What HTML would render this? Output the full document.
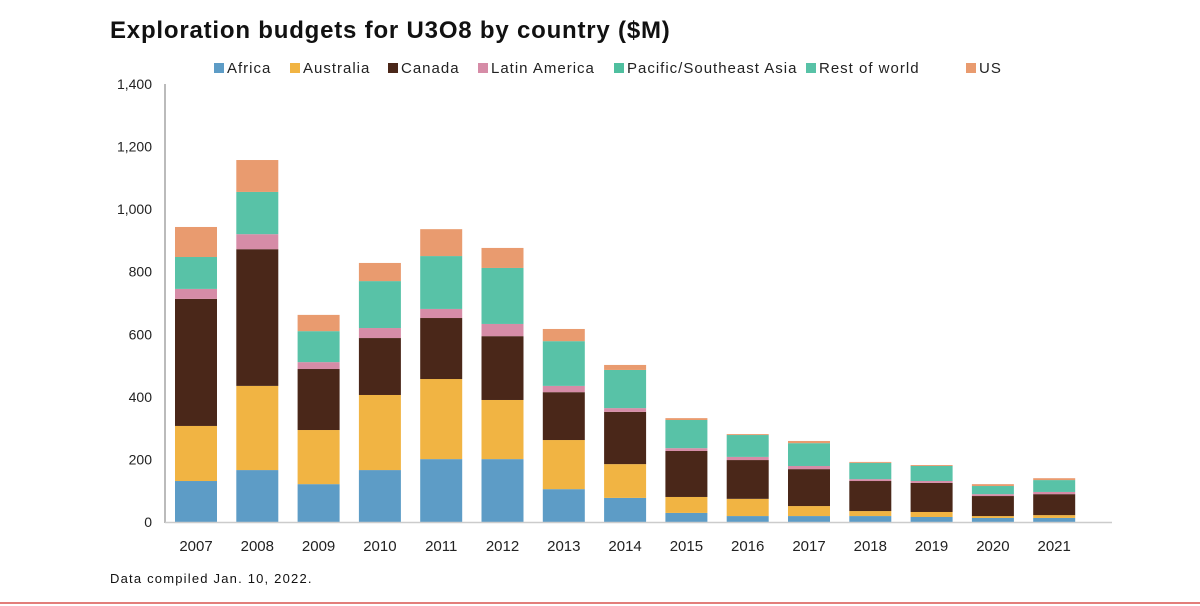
<!DOCTYPE html>
<html><head><meta charset="utf-8"><style>
body{margin:0;background:#fff;width:1200px;height:606px;overflow:hidden;font-family:"Liberation Sans",sans-serif}
</style></head><body>
<svg id="c" width="1200" height="606" style="position:absolute;left:0;top:0">
<text x="110" y="38" font-size="24" font-weight="bold" fill="#111" letter-spacing="0.8">Exploration budgets for U3O8 by country ($M)</text>
<text x="110" y="583" font-size="13" fill="#111" letter-spacing="1.2">Data compiled Jan. 10, 2022.</text>
<line x1="0" y1="603" x2="1200" y2="603" stroke="#d9534f" stroke-width="1.5"/>
</svg>
<script>
const years=["2007","2008","2009","2010","2011","2012","2013","2014","2015","2016","2017","2018","2019","2020","2021"];
const africa=[131,166,121,166,201,201,105,77,29,19,19,19,16,13,13];
const australia=[176,269,173,240,256,189,157,108,51,55,32,16,16,6,9];
const canada=[406,437,195,182,195,204,153,167,147,124,118,96,93,64,67];
const latam=[32,48,22,32,29,39,20,12,9,10,10,6,6,6,7];
const pacific=[0,0,0,0,0,0,0,0,0,0,0,0,0,0,0];
const rest=[102,135,99,150,169,179,143,122,90,70,73,52,48,26,38];
const us=[96,102,52,58,86,64,39,16,6,3,7,3,3,6,6];
const yTicks=[0,200,400,600,800,1000,1200,1400];
const yTickLabels=["0","200","400","600","800","1,000","1,200","1,400"];
const seriesNames=["Africa","Australia","Canada","Latin America","Pacific/Southeast Asia","Rest of world","US"];
const series=[africa,australia,canada,latam,pacific,rest,us];
const colors=["#5d9cc6","#f1b443","#4a2719","#d68ca7","#4fbf9f","#58c2a7","#e99b6f"];
const NS="http://www.w3.org/2000/svg",svg=document.getElementById('c');
const y0=522,pxPer=438/1400;
const y=v=>y0-v*pxPer;
const x=i=>196+i*61.3;
function mk(t,a){const e=document.createElementNS(NS,t);for(const k in a)e.setAttribute(k,a[k]);svg.appendChild(e);return e;}
yTicks.forEach((t,i)=>{const e=mk('text',{x:152,y:y(t)+5,'font-size':14,'text-anchor':'end',fill:'#222'});e.textContent=yTickLabels[i];

});
const ax=mk('line',{x1:165,y1:84,x2:165,y2:523,stroke:'#bbb','stroke-width':2});


years.forEach((yr,i)=>{let cum=0;series.forEach((s,j)=>{const v=s[i];if(v>0){const r=mk('rect',{x:x(i)-21,y:y(cum+v),width:42,height:v*pxPer,fill:colors[j]});

}cum+=v;});
const t=mk('text',{x:x(i),y:551,'font-size':15,'text-anchor':'middle',fill:'#222'});t.textContent=yr;

});
const bl=mk('line',{x1:165,y1:522.5,x2:1112,y2:522.5,stroke:'#ccc','stroke-width':1.5});


const legX=[214,290,388,478,614,806,966];
seriesNames.forEach((n,j)=>{const r=mk('rect',{x:legX[j],y:63,width:10,height:10,fill:colors[j]});


const t=mk('text',{x:legX[j]+13,y:73,'font-size':15,fill:'#222','letter-spacing':1.0});t.textContent=n;

});
</script>
</body></html>
